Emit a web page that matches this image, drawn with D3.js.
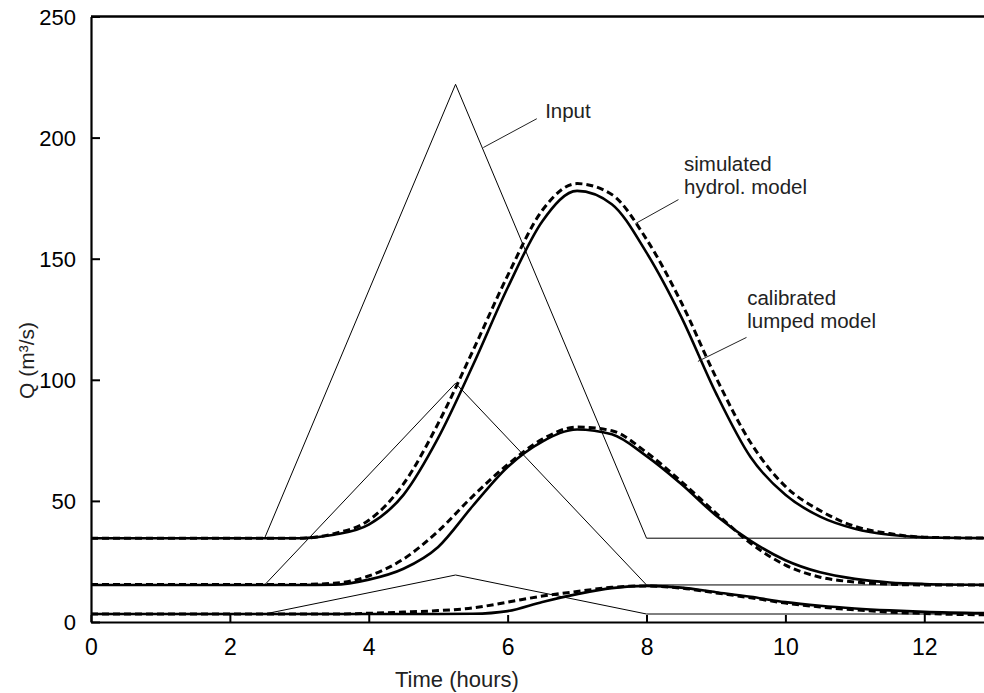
<!DOCTYPE html>
<html><head><meta charset="utf-8">
<script src="https://cdn.jsdelivr.net/npm/d3@7"></script>
<style>
html,body{margin:0;padding:0;background:#fff;}
svg{display:block;}
text{font-family:"Liberation Sans",Arial,Helvetica,sans-serif;}
</style></head>
<body>
<script>
// ---- data ----
const xTicks = [0, 2, 4, 6, 8, 10, 12];
const yTicks = [0, 50, 100, 150, 200, 250];

const inputTimes = [0, 2.5, 5.25, 8, 13];
const inputLarge = [34.6, 34.6, 222, 34.6, 34.6];
const inputMedium = [15.3, 15.3, 98.6, 15.3, 15.3];
const inputSmall = [3.3, 3.3, 19.4, 3.3, 3.3];

const times = [0, 1, 2, 3, 3.5, 4, 4.5, 5, 5.5, 6, 6.5, 7, 7.5, 8, 8.5, 9, 9.5, 10, 10.5, 11, 11.5, 12, 13];
// calibrated lumped model (solid)
const lumpedLarge  = [34.6, 34.6, 34.6, 34.6, 36, 40.2, 52.5, 76, 106, 138, 165.5, 178, 172.5, 152.5, 126, 94.5, 68, 52.5, 43.5, 38.5, 36, 35, 34.6];
const lumpedMedium = [15.3, 15.3, 15.3, 15.3, 15.4, 17.5, 22, 31, 48, 64, 74.5, 79.5, 77.5, 68.5, 57, 44, 33.5, 25.5, 20.5, 17.8, 16.3, 15.7, 15.3];
const lumpedSmall  = [3.3, 3.3, 3.3, 3.3, 3.3, 3.3, 3.3, 3.3, 3.4, 4.5, 8.3, 11.5, 14, 14.9, 14.2, 12.3, 10.4, 8.2, 6.7, 5.6, 4.8, 4.2, 3.6];
// simulated hydrological model (dashed)
const hydroLarge  = [34.6, 34.6, 34.6, 34.6, 36.5, 42, 57, 82, 112, 143, 170, 181, 176.5, 158, 132, 101, 74, 56, 46, 39.5, 36.5, 35, 34.6];
const hydroMedium = [15.5, 15.5, 15.5, 15.5, 16, 19, 26, 37.5, 52, 65, 75.5, 80.5, 79, 70, 58, 45, 32.5, 23.5, 18.5, 16.5, 15.6, 15.3, 15.3];
const hydroSmall  = [3.3, 3.3, 3.3, 3.3, 3.3, 3.6, 4.1, 4.7, 5.8, 8.2, 10.7, 12.6, 14.3, 14.9, 14, 12, 10, 7.8, 6.2, 5, 4.1, 3.5, 2.9];

const annotations = [
  {lines: ["Input"], tx: 6.54, ty: 208.2, from: [6.42, 207.8], to: [5.65, 195.9]},
  {lines: ["simulated", "hydrol. model"], tx: 8.54, ty: 177.3, from: [8.46, 174.4], to: [7.84, 164.5]},
  {lines: ["calibrated", "lumped model"], tx: 9.45, ty: 121.6, from: [9.44, 117.5], to: [8.74, 107.6]}
];

// ---- layout ----
const W = 984, H = 693;
const x = d3.scaleLinear().domain([0, 12.86]).range([91, 984]);
const y = d3.scaleLinear().domain([0, 250]).range([622, 16.5]);

const svg = d3.select("body").append("svg").attr("width", W).attr("height", H);

svg.append("defs").append("clipPath").attr("id", "plotclip")
  .append("rect").attr("x", 91).attr("y", 10).attr("width", 893).attr("height", 612);

const plot = svg.append("g").attr("clip-path", "url(#plotclip)");
const line = d3.line().x(d => x(d[0])).y(d => y(d[1]));

function pairs(ts, vs){ return ts.map((t, i) => [t, vs[i]]); }

// inputs
[inputLarge, inputMedium, inputSmall].forEach(v => {
  plot.append("path").datum(pairs(inputTimes, v)).attr("d", line)
    .attr("fill", "none").attr("stroke", "#000").attr("stroke-width", 1);
});
// calibrated (solid)
[lumpedLarge, lumpedMedium, lumpedSmall].forEach(v => {
  plot.append("path").datum(pairs(times, v)).attr("d", line.curve(d3.curveMonotoneX))
    .attr("fill", "none").attr("stroke", "#000").attr("stroke-width", 2.6).attr("stroke-linejoin", "round");
});
// simulated (dashed)
[hydroLarge, hydroMedium, hydroSmall].forEach(v => {
  plot.append("path").datum(pairs(times, v)).attr("d", line.curve(d3.curveMonotoneX))
    .attr("fill", "none").attr("stroke", "#000").attr("stroke-width", 3).attr("stroke-dasharray", "7,4");
});

// axes
const xAxis = d3.axisBottom(x).tickValues(xTicks).tickSizeInner(-7).tickSizeOuter(0).tickPadding(17);
const gx = svg.append("g").attr("transform", "translate(0,622)").call(xAxis);
gx.select(".domain").attr("stroke-width", 2.2);
gx.selectAll(".tick line").attr("stroke-width", 2);
gx.selectAll(".tick text").attr("font-size", 23).attr("fill", "#000")
  .attr("font-family", "'Liberation Sans', Arial, sans-serif");

const yAxis = d3.axisLeft(y).tickValues(yTicks).tickSizeInner(-9).tickSizeOuter(0).tickPadding(15);
const gy = svg.append("g").attr("transform", "translate(91,0)").call(yAxis);
gy.select(".domain").attr("stroke-width", 2.2);
gy.selectAll(".tick line").attr("stroke-width", 2);
gy.selectAll(".tick text").attr("font-size", 22).attr("fill", "#000").attr("dy", "0.36em")
  .attr("font-family", "'Liberation Sans', Arial, sans-serif");

// top border
svg.append("line").attr("x1", x(0)).attr("x2", 984).attr("y1", y(250)).attr("y2", y(250))
  .attr("stroke", "#000").attr("stroke-width", 2.6);

// axis titles
svg.append("text").attr("x", x(5.27)).attr("y", 687).attr("text-anchor", "middle")
  .attr("font-size", 22).attr("fill", "#222").text("Time (hours)");
svg.append("text").attr("transform", "translate(34," + y(108) + ") rotate(-90)")
  .attr("text-anchor", "middle").attr("font-size", 21).attr("fill", "#222").text("Q (m³/s)");

// annotations
const LH = 23;
annotations.forEach(a => {
  svg.append("line").attr("x1", x(a.from[0])).attr("y1", y(a.from[1]))
    .attr("x2", x(a.to[0])).attr("y2", y(a.to[1])).attr("stroke", "#222").attr("stroke-width", 1);
  const n = a.lines.length;
  a.lines.forEach((l, i) => {
    svg.append("text").attr("x", x(a.tx))
      .attr("y", y(a.ty) + (i - (n - 1)) * LH + (n > 1 ? 1 : 0))
      .attr("font-size", 20.5).attr("fill", "#222").text(l);
  });
});
</script>
</body></html>
